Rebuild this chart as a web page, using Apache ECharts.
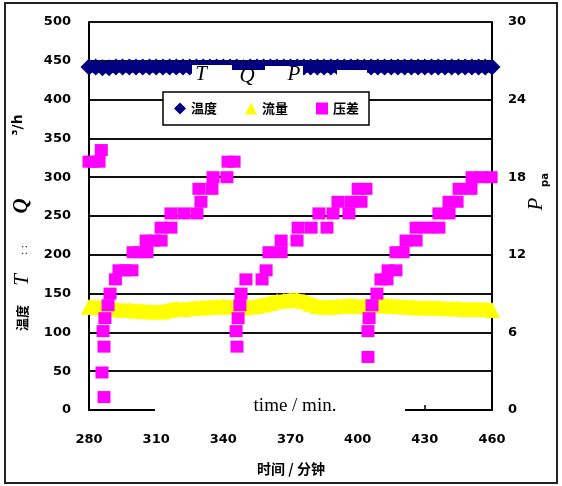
<!DOCTYPE html>
<html><head><meta charset="utf-8">
<script src="https://cdn.jsdelivr.net/npm/echarts@6/dist/echarts.min.js"></script>
<style>html,body{margin:0;padding:0;background:#fff}#c{width:562px;height:486px}</style>
</head><body><div id="c"></div>
<script>
const xTicks = [280, 310, 340, 370, 400, 430, 460];
const leftTicks = [0, 50, 100, 150, 200, 250, 300, 350, 400, 450, 500];
const rightTicks = [0, 6, 12, 18, 24, 30];
const seriesNames = ['温度', '流量', '压差'];

const tempTime = [280,283,286,289,292,295,298,301,304,307,310,313,316,319,322,325,328,331,334,337,340,343,346,349,352,355,358,361,364,367,370,373,376,379,382,385,388,391,394,397,400,403,406,409,412,415,418,421,424,427,430,433,436,439,442,445,448,451,454,457,460];
const tempVal = [442,442,441,441,442,442,442,442,442,442,442,442,442,442,442,442,442,442,442,442,442,442,442,441,442,442,442,442,442,442,442,442,442,442,442,442,442,442,442,442,442,442,442,442,442,442,442,442,442,442,442,442,442,442,442,442,442,442,442,442,442];

const flowTime = tempTime;
const flowVal = [133,133,132,130,130,129,129,128,128,127,127,127,129,131,130,131,132,132,133,133,134,133,133,132,133,134,136,138,140,141,142,142,140,137,134,133,133,134,134,135,134,134,135,135,135,134,134,133,133,132,132,132,132,131,131,131,130,130,130,130,129];

const presTime = [280,282,284.5,285.5, 286.7,285.8,286.7,286.3,287.1,288.5,289.4,
  291.8,293.4,296.3,299.2,299.7,302.8,305.9,305.5,309,312.2,312.2,316.6,316.6,322.4,328.2,330.0,329.1,334.9,335.4,341.6,342.1,344.8,
  347.9,347.4,346.6,345.7,346.1,
  350.1,357.3,359.1,360.4,365.8,365.8,372.9,373.4,379.2,386.3,382.7,389.0,396.1,391.2,397.0,401.5,400.2,403.7,
  404.6,404.6,405.1,406.4,408.6,
  410.4,413.1,413.6,417.1,417.1,420.3,421.6,426.1,426.1,431.4,436.3,436.3,440.8,440.8,444.4,445.3,450.6,451.1,455.5,459.6];
const presVal = [19.2,19.2,19.2,20.1, 1.0,2.9,4.9,6.1,7.1,8.1,9.0,
  10.1,10.8,10.8,10.8,12.2,12.2,12.2,13.1,13.1,13.1,14.1,14.1,15.2,15.2,15.2,16.1,17.1,17.1,18.0,18.0,19.2,19.2,
  9.0,8.1,7.1,6.1,4.9,
  10.1,10.1,10.8,12.2,12.2,13.1,13.1,14.1,14.1,14.1,15.2,15.2,15.2,16.1,16.1,16.1,17.1,17.1,
  4.1,6.1,7.1,8.1,9.0,
  10.1,10.1,10.8,10.8,12.2,12.2,13.1,13.1,14.1,14.1,14.1,15.2,15.2,16.1,16.1,17.1,17.1,18.0,18.0,18.0];

const pair = (a, b) => a.map((t, i) => [t, b[i]]);
const tickFont = {fontFamily: 'DejaVu Sans', fontWeight: 'bold', fontSize: 13, color: '#000'};

const chart = echarts.init(document.getElementById('c'), null, {renderer: 'canvas'});
chart.setOption({
  animation: false,
  backgroundColor: '#fff',
  grid: {left: 89, right: 70, top: 22, bottom: 76, containLabel: false},
  legend: {
    data: [
      {name: seriesNames[0], icon: 'diamond'},
      {name: seriesNames[1], icon: 'triangle'},
      {name: seriesNames[2], icon: 'rect'}
    ],
    left: 163, top: 92, orient: 'horizontal',
    itemWidth: 12, itemHeight: 12, itemGap: 28,
    padding: [10, 10, 10, 11],
    backgroundColor: '#fff', borderColor: '#000', borderWidth: 1.5,
    textStyle: {fontFamily: 'Noto Sans CJK SC', fontWeight: 'bold', fontSize: 13, color: '#000'},
    z: 50
  },
  xAxis: {
    type: 'value', min: 280, max: 460, interval: 30,
    axisLine: {show: true, lineStyle: {color: '#000', width: 2}},
    axisTick: {show: true, inside: true, length: 5, lineStyle: {color: '#000', width: 1.5}},
    axisLabel: Object.assign({margin: 23, formatter: v => xTicks.includes(v) ? String(v) : ''}, tickFont),
    splitLine: {show: false}
  },
  yAxis: [
    {
      type: 'value', min: 0, max: 500, interval: 50, position: 'left',
      axisLine: {show: true, onZero: false, lineStyle: {color: '#000', width: 2}},
      axisTick: {show: false},
      axisLabel: Object.assign({margin: 18, formatter: v => leftTicks.includes(v) ? String(v) : ''}, tickFont),
      splitLine: {show: true, lineStyle: {color: '#111', width: 2}}
    },
    {
      type: 'value', min: 0, max: 30, interval: 6, position: 'right',
      axisLine: {show: true, onZero: false, lineStyle: {color: '#000', width: 2}},
      axisTick: {show: false},
      axisLabel: Object.assign({margin: 16, formatter: v => rightTicks.includes(v) ? String(v) : ''}, tickFont),
      splitLine: {show: false}
    }
  ],
  series: [
    {
      name: seriesNames[0], type: 'line', yAxisIndex: 0,
      data: pair(tempTime, tempVal),
      symbol: 'diamond', symbolSize: 17, showAllSymbol: true,
      itemStyle: {color: '#000080'},
      lineStyle: {color: '#000080', width: 11},
      z: 3
    },
    {
      name: seriesNames[1], type: 'line', yAxisIndex: 0,
      data: pair(flowTime, flowVal),
      symbol: 'triangle', symbolSize: 16, showAllSymbol: true,
      itemStyle: {color: '#FFFF00'},
      lineStyle: {color: '#FFFF00', width: 13},
      z: 3
    },
    {
      name: seriesNames[2], type: 'scatter', yAxisIndex: 1,
      data: pair(presTime, presVal),
      symbol: 'rect', symbolSize: [13, 12],
      itemStyle: {color: '#FF00FF', opacity: 1},
      z: 4
    }
  ],
  graphic: [
    {type: 'rect', shape: {x: 5, y: 3, width: 552, height: 480}, style: {fill: 'none', stroke: '#222', lineWidth: 2}, z: 100},
    {type: 'rect', shape: {x: 192, y: 65, width: 40, height: 26}, style: {fill: '#fff'}, z: 40},
    {type: 'rect', shape: {x: 232, y: 70, width: 33, height: 21}, style: {fill: '#fff'}, z: 40},
    {type: 'rect', shape: {x: 265, y: 66, width: 38, height: 25}, style: {fill: '#fff'}, z: 40},
    {type: 'rect', shape: {x: 337, y: 70, width: 30, height: 21}, style: {fill: '#fff'}, z: 40},
    {type: 'rect', shape: {x: 155, y: 395, width: 250, height: 25}, style: {fill: '#fff'}, z: 40},
    {type: 'text', x: 295, y: 406, z: 60, style: {text: 'time / min.', font: '19px "Liberation Serif"', fill: '#000', align: 'center', verticalAlign: 'middle'}},
    {type: 'text', x: 201, y: 74, z: 60, style: {text: 'T', font: 'italic 21px "Liberation Serif"', fill: '#000', align: 'center', verticalAlign: 'middle'}},
    {type: 'text', x: 247, y: 76, z: 60, style: {text: 'Q', font: 'italic 21px "Liberation Serif"', fill: '#000', align: 'center', verticalAlign: 'middle'}},
    {type: 'text', x: 294, y: 74, z: 60, style: {text: 'P', font: 'italic 21px "Liberation Serif"', fill: '#000', align: 'center', verticalAlign: 'middle'}},
    {type: 'text', x: 291, y: 469, z: 60, style: {text: '时间 / 分钟', font: 'bold 14px "Noto Sans CJK SC"', fill: '#000', align: 'center', verticalAlign: 'middle'}},
    {type: 'text', x: 22, y: 318, rotation: Math.PI / 2, z: 60, style: {text: '温度', font: 'bold 13px "Noto Sans CJK SC"', fill: '#000', align: 'center', verticalAlign: 'middle'}},
    {type: 'text', x: 22, y: 280, rotation: Math.PI / 2, z: 60, style: {text: 'T', font: 'italic 21px "Liberation Serif"', fill: '#000', align: 'center', verticalAlign: 'middle'}},
    {type: 'text', x: 24, y: 250, rotation: Math.PI / 2, z: 60, style: {text: ': :', font: '10px "DejaVu Sans"', fill: '#000', align: 'center', verticalAlign: 'middle'}},
    {type: 'text', x: 22, y: 206, rotation: Math.PI / 2, z: 60, style: {text: 'Q', font: 'italic bold 21px "Liberation Serif"', fill: '#000', align: 'center', verticalAlign: 'middle'}},
    {type: 'text', x: 18, y: 125, rotation: Math.PI / 2, z: 60, style: {text: '³/h', font: 'bold 14px "DejaVu Sans"', fill: '#000', align: 'center', verticalAlign: 'middle'}},
    {type: 'text', x: 536, y: 204, rotation: Math.PI / 2, z: 60, style: {text: 'P', font: 'italic 21px "Liberation Serif"', fill: '#000', align: 'center', verticalAlign: 'middle'}},
    {type: 'text', x: 545, y: 180, rotation: Math.PI / 2, z: 60, style: {text: 'pa', font: 'bold 10px "DejaVu Sans"', fill: '#000', align: 'center', verticalAlign: 'middle'}}
  ]
});
</script></body></html>
